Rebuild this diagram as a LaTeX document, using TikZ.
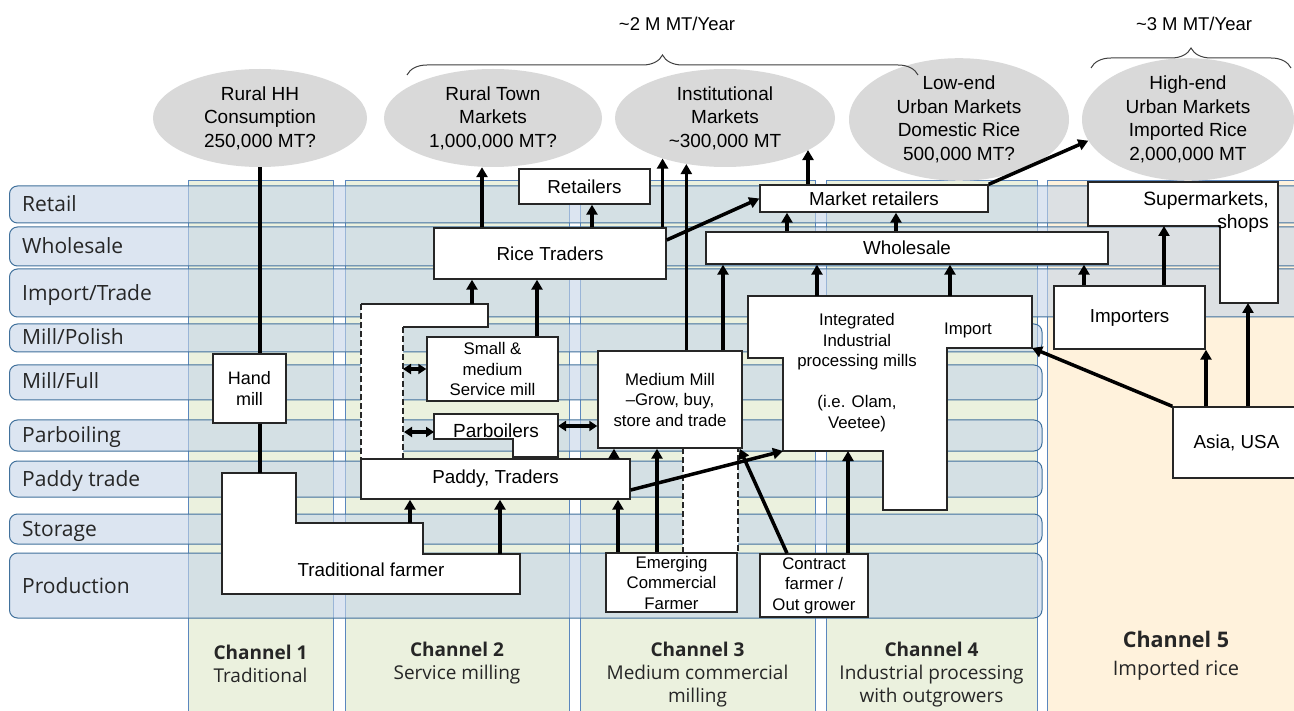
\documentclass[tikz,border=0pt]{standalone}
\usepackage{fontspec}
\setmainfont{Liberation Sans}
\newfontfamily\lblfont{Open Sans}
\usetikzlibrary{arrows.meta,decorations.pathreplacing,shapes.geometric,calc}
\definecolor{bandfill}{RGB}{197,213,233}
\definecolor{bandline}{RGB}{65,113,156}
\definecolor{colfill}{RGB}{235,241,222}
\definecolor{colline}{RGB}{91,135,190}
\definecolor{creamfill}{RGB}{255,242,220}
\definecolor{ellfill}{RGB}{217,217,217}
\definecolor{boxline}{RGB}{38,38,38}
\definecolor{bracecol}{RGB}{64,64,64}
\tikzset{
  band/.style={fill=bandfill, fill opacity=0.6, draw=bandline, line width=1pt, rounded corners=8pt},
  chcol/.style={fill=colfill, draw=colline, line width=0.9pt},
  rowlbl/.style={anchor=west, inner sep=0pt, font=\lblfont\fontsize{21}{25}\selectfont, text=black!85, text height=15pt, text depth=4pt},
  ell/.style={ellipse, fill=ellfill, inner sep=0pt, align=center, font=\fontsize{19}{23.5}\selectfont},
  box/.style={draw=boxline, fill=white, line width=1.4pt, inner sep=0pt, align=center},
  poly/.style={draw=boxline, fill=white, line width=1.4pt},
  bigtxt/.style={font=\fontsize{18.8}{22}\selectfont},
  smalltxt/.style={font=\fontsize{16.8}{20.5}\selectfont},
  arr/.style={line width=3.5pt, -{Triangle[length=10pt,width=11pt]}},
  darr/.style={line width=3.3pt, {Triangle[length=8pt,width=10pt]}-{Triangle[length=8pt,width=10pt]}},
  plainln/.style={line width=3.5pt},
  chlbl/.style={align=center, inner sep=0pt, font=\lblfont\fontsize{19}{23}\selectfont, text=black!85},
  bracest/.style={draw=bracecol, line width=1pt, decorate, decoration={brace, amplitude=20pt}},
  toptxt/.style={inner sep=0pt, font=\fontsize{18.5}{22}\selectfont},
  dashedbox/.style={draw=boxline, fill=white, line width=1.4pt, dash pattern=on 6pt off 3pt},
}
\begin{document}
\begin{tikzpicture}[x=1pt,y=-1pt]
\useasboundingbox (0,0) rectangle (1294,711);
\fill[white] (0,0) rectangle (1294,711);

% channel columns
\draw[chcol] (188,180) rectangle (333,716);
\draw[chcol] (345,180) rectangle (569,716);
\draw[chcol] (580,180) rectangle (815,716);
\draw[chcol] (826,180) rectangle (1037,716);
\draw[fill=creamfill, draw=colline, line width=0.9pt] (1047,180) rectangle (1300,716);

% row bands
\draw[band] (9.5,186) rectangle (1305,223);
\draw[band] (9.5,227) rectangle (1305,266);
\draw[band] (9.5,269) rectangle (1305,317);
\draw[band] (9.5,324) rectangle (1042,352);
\draw[band] (9.5,365) rectangle (1042,400);
\draw[band] (9.5,420) rectangle (1042,451);
\draw[band] (9.5,461) rectangle (1042,497);
\draw[band] (9.5,514) rectangle (1042,544);
\draw[band] (9.5,553) rectangle (1042,618);

\node[rowlbl] (lretail) at (22,206) {Retail};
\node[rowlbl] (lwhole) at (22,248) {Wholesale};
\node[rowlbl] (limport) at (22,295) {Import/Trade};
\node[rowlbl] (lpolish) at (22,339) {Mill/Polish};
\node[rowlbl] (lfull) at (22,383) {Mill/Full};
\node[rowlbl] (lparb) at (22,437) {Parboiling};
\node[rowlbl] (lpaddy) at (22,481) {Paddy trade};
\node[rowlbl] (lstor) at (22,531) {Storage};
\node[rowlbl] (lprod) at (22,587.5) {Production};

% channel labels
\node[chlbl] (c1) at (260.5,663.5) {\textbf{Channel 1}\\Traditional};
\node[chlbl] (c2) at (457,663.5) {\textbf{Channel 2}\\Service milling};
\node[chlbl] (c3) at (697.5,675) {\textbf{Channel 3}\\Medium commercial\\milling};
\node[chlbl] (c4) at (931.5,675) {\textbf{Channel 4}\\Industrial processing\\with outgrowers};
\node[chlbl, font=\lblfont\fontsize{20}{28}\selectfont] (c5) at (1176,656) {{\fontsize{21.5}{28}\selectfont\textbf{Channel 5}}\\Imported rice};

% market ellipses
\node[ell, minimum width=214pt, minimum height=98pt] (e1) at (260,118) {Rural HH\\Consumption\\250,000 MT?};
\node[ell, minimum width=218pt, minimum height=98pt] (e2) at (493,118) {Rural Town\\Markets\\1,000,000 MT?};
\node[ell, minimum width=220pt, minimum height=98pt] (e3) at (725,118) {Institutional\\Markets\\\textasciitilde 300,000 MT};
\node[ell, minimum width=220pt, minimum height=102pt] (e4) at (959,119.5) {Low-end\\Urban Markets\\Domestic Rice\\500,000 MT?};
\node[ell, minimum width=212pt, minimum height=102pt] (e5) at (1188,119.5) {High-end\\Urban Markets\\Imported Rice\\2,000,000 MT};

% braces
\draw[bracest] (407,75) -- (918,75);
\node[toptxt] (b1) at (677,24) {\textasciitilde 2 M MT/Year};
\draw[bracest] (1091,68) -- (1291,68);
\node[toptxt] (b2) at (1194,24) {\textasciitilde 3 M MT/Year};

% shapes
\node[box, bigtxt, minimum width=232pt, minimum height=51pt] (ricetr) at (550,253.5) {Rice Traders};
\node[box, bigtxt, minimum width=131pt, minimum height=35pt] (retailers) at (584.5,186.5) {Retailers};
\node[box, bigtxt, minimum width=228pt, minimum height=27pt] (mret) at (874,198.5) {Market retailers};
\node[box, bigtxt, minimum width=402pt, minimum height=32pt] (whole) at (907,248) {Wholesale};

\draw[poly] (1088,182) -- (1278,182) -- (1278,303) -- (1220,303) -- (1220,226) -- (1088,226) -- cycle;
\node[anchor=east, align=right, inner sep=0pt, font=\fontsize{19.3}{23}\selectfont] (smtxt) at (1269,212) {Supermarkets,\\shops};

\node[box, bigtxt, minimum width=151pt, minimum height=63pt] (importers) at (1129.5,317.5) {Importers};
\node[box, bigtxt, minimum width=127pt, minimum height=71pt] (asia) at (1236.5,442.5) {Asia, USA};

\draw[poly] (748,296) -- (1032,296) -- (1032,348) -- (947,348) -- (947,510) -- (883,510) -- (883,451) -- (783,451) -- (783,358) -- (748,358) -- cycle;
\node[smalltxt, align=center, inner sep=0pt] (inttxt) at (857,372.5) {Integrated\\Industrial\\processing mills\\[20.5pt](i.e. Olam,\\Veetee)};
\node[smalltxt, inner sep=0pt] (imptxt) at (968,330) {Import};

% dashed tall shape (channel 2)
\fill[white] (361,304) -- (488,304) -- (488,327) -- (403,327) -- (403,459) -- (361,459) -- cycle;
\draw[draw=boxline, line width=1.4pt] (361,304) -- (488,304) -- (488,327) -- (403,327);
\draw[draw=boxline, line width=1.4pt, dash pattern=on 6pt off 3pt] (403,327) -- (403,459) (361,304) -- (361,459);

\node[box, smalltxt, minimum width=131pt, minimum height=64pt] (smallmill) at (492.5,369) {Small \&\\medium\\Service mill};
\draw[poly] (434,414) -- (558,414) -- (558,457) -- (513,457) -- (513,439) -- (434,439) -- cycle;
\node[inner sep=0pt, font=\fontsize{19}{22}\selectfont] (pbtxt) at (496,431) {Parboilers};

\draw[dashedbox] (683,448) rectangle (738,553);
\node[box, smalltxt, minimum width=144pt, minimum height=97pt] (medmill) at (670,399.5) {Medium Mill\\\textendash Grow, buy,\\store and trade};

\node[box, bigtxt, minimum width=269pt, minimum height=40pt] (paddy) at (495.5,479) {Paddy, Traders};
\node[box, smalltxt, minimum width=73pt, minimum height=69pt, font=\fontsize{18}{21}\selectfont] (handmill) at (249.5,388.5) {Hand\\mill};

\draw[poly] (222,473) -- (296,473) -- (296,523) -- (423,523) -- (423,554) -- (520,554) -- (520,594) -- (222,594) -- cycle;
\node[bigtxt, inner sep=0pt] (tftxt) at (371,570) {Traditional farmer};

\node[box, smalltxt, minimum width=131pt, minimum height=59pt] (emerg) at (671.5,582.5) {Emerging\\Commercial\\Farmer};
\node[box, smalltxt, minimum width=108pt, minimum height=63pt] (contract) at (814,585.5) {Contract\\farmer /\\Out grower};

% connector end points on drawn shapes
\coordinate (tftop) at (260,473);
\coordinate (tf1) at (410,523);
\coordinate (tf2) at (500,554);
\coordinate (ds1) at (472,304);
\coordinate (ds2) at (403,369);
\coordinate (ds3) at (404,432);
\coordinate (pbL) at (434,432);
\coordinate (pbR) at (558,426);
\coordinate (int1) at (817,296);
\coordinate (int2) at (950,296);
\coordinate (intR) at (1032,348);
\coordinate (intL) at (783,451);
\coordinate (intB) at (848,451);
\coordinate (sm1) at (1164,226);
\coordinate (sm2) at (1248,303);

% channel 1
\draw[plainln] (e1.south) -- (e1.south |- handmill.north);
\draw[plainln] (e1.south |- handmill.south) -- (tftop);

% channel 2
\draw[arr] (tf1) -- (tf1 |- paddy.south);
\draw[arr] (tf2) -- (tf2 |- paddy.south);
\draw[arr] (ds1) -- (ds1 |- ricetr.south);
\draw[arr] ([xshift=44.5pt]smallmill.north) -- ([xshift=44.5pt]smallmill.north |- ricetr.south);
\draw[arr] ([xshift=-68pt]ricetr.north) -- ([xshift=-68pt]ricetr.north |- e2.south);
\draw[arr] ([xshift=42pt]ricetr.north) -- ([xshift=42pt]ricetr.north |- retailers.south);
\draw[arr] (ricetr.north -| e3.213) -- (e3.213);
\draw[arr] ([yshift=13.5pt]ricetr.east) -- (mret.west);
\draw[darr] (ds2) -- (ds2 -| smallmill.west);
\draw[darr] (ds3) -- (pbL);
\draw[darr] (pbR) -- (pbR -| medmill.west);

% channel 3
\draw[arr] ([xshift=118.5pt]paddy.north) -- ([xshift=118.5pt]paddy.north |- medmill.south);
\draw[arr] ([xshift=-53.5pt]emerg.north) -- ([xshift=-53.5pt]emerg.north |- paddy.south);
\draw[arr] ([xshift=-14.5pt]emerg.north) -- ([xshift=-14.5pt]emerg.north |- medmill.south);
\draw[arr] (medmill.north -| e3.230) -- (e3.230);
\draw[arr] ([xshift=53pt]medmill.north) -- ([xshift=53pt]medmill.north |- whole.south);

% channel 4
\draw[arr] ([yshift=-11pt]paddy.east) -- (intL);
\draw[arr] ([xshift=-27pt]contract.north) -- ([xshift=-3pt]medmill.south east);
\draw[arr] (contract.north -| intB) -- (intB);
\draw[arr] (int1) -- (int1 |- whole.south);
\draw[arr] (int2) -- (int2 |- whole.south);
\draw[arr] ([xshift=-87pt]mret.south |- whole.north) -- ([xshift=-87pt]mret.south);
\draw[arr] ([xshift=22pt]mret.south |- whole.north) -- ([xshift=22pt]mret.south);
\draw[arr] ([xshift=-66pt]mret.north) -- ([xshift=-66pt]mret.north |- e3.339);
\draw[arr] (mret.north east) -- (e5.192);

% channel 5
\draw[arr] ([xshift=-45.5pt]importers.north) -- ([xshift=-45.5pt]importers.north |- whole.south);
\draw[arr] (importers.north -| sm1) -- (sm1);
\draw[arr] ([xshift=-30.5pt]asia.north) -- ([xshift=-30.5pt]asia.north |- importers.south);
\draw[arr] (asia.north -| sm2) -- (sm2);
\draw[arr] (asia.north west) -- (intR);
\end{tikzpicture}
\end{document}
